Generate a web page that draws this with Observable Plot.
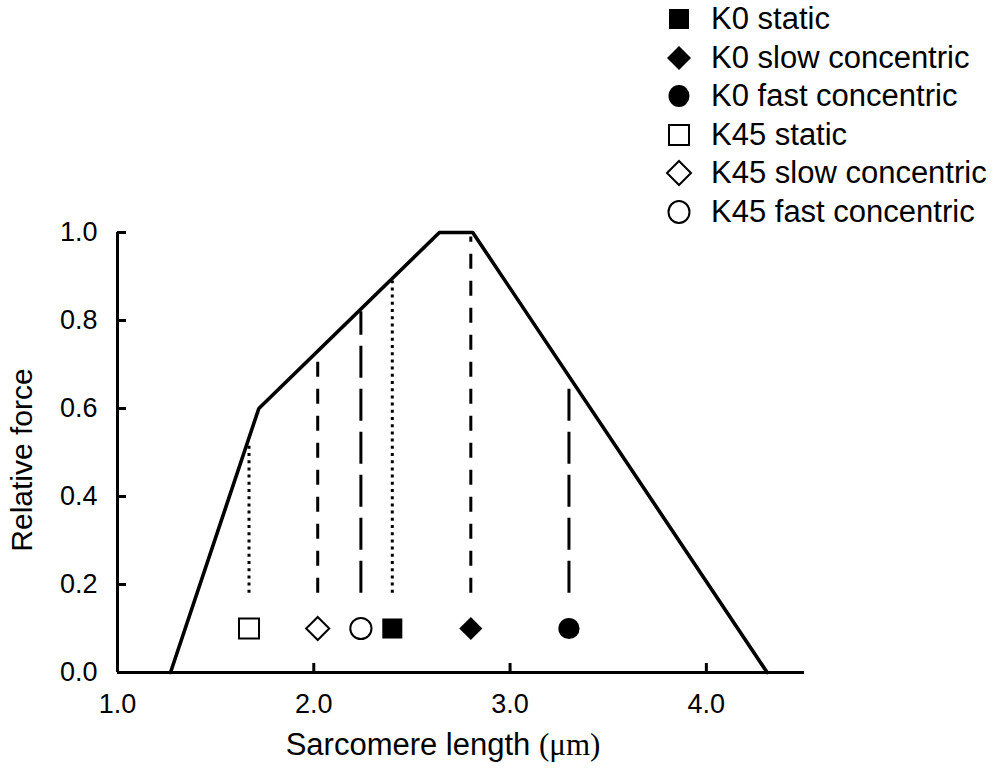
<!DOCTYPE html>
<html>
<head>
<meta charset="utf-8">
<script src="https://cdn.jsdelivr.net/npm/d3@7"></script>
<script src="https://cdn.jsdelivr.net/npm/@observablehq/plot@0.6"></script>
<style>
  html, body { margin: 0; padding: 0; background: #fff; }
  #wrap { position: relative; width: 1004px; height: 779px; font-family: "Liberation Sans", Arial, sans-serif; color: #000; }
  #wrap > svg { position: absolute; left: 0; top: 0; }
  .legend { position: absolute; left: 664px; top: 0px; }
  .legend .row { display: flex; align-items: center; height: 38.5px; font-size: 31px; }
  .legend .row svg { display: block; margin-right: 17px; flex: none; }
  .xtitle { position: absolute; left: 443px; top: 745px; font-size: 31px; transform: translate(-50%, -50%); white-space: nowrap; }
  .ytitle { position: absolute; left: 22px; top: 460px; font-size: 30px; transform: translate(-50%, -50%) rotate(-90deg); white-space: nowrap; }
  .serif { font-family: "Liberation Serif", "Times New Roman", serif; }
</style>
</head>
<body>
<div id="wrap"></div>
<script>
// Force-length relationship (sarcomere length in µm, relative force)
const curveLength = [1.27, 1.72, 2.64, 2.81, 4.31];
const curveForce  = [0.0, 0.6, 1.0, 1.0, 0.0];

// Conditions
const conditions = ["K0 static", "K0 slow concentric", "K0 fast concentric", "K45 static", "K45 slow concentric", "K45 fast concentric"];
const condLength = [2.40, 2.80, 3.30, 1.67, 2.02, 2.24];
const markerForce = [0.1, 0.1, 0.1, 0.1, 0.1, 0.1];
const lineBottom = [0.18, 0.18, 0.18, 0.18, 0.18, 0.18];
const lineTop = [0.89, 0.99, 0.65, 0.52, 0.72, 0.82];
const condSymbol = ["square", "diamond2", "circle", "square", "diamond2", "circle"];
const condFilled = [true, true, true, false, false, false];
const condSpeed = ["static", "slow", "fast", "static", "slow", "fast"];

const xTicks = [1, 2, 3, 4];
const yTicks = [0, 0.2, 0.4, 0.6, 0.8, 1.0];

const curve = curveLength.map((x, i) => ({x, y: curveForce[i]}));
const cond = conditions.map((name, i) => ({
  name, x: condLength[i], y: markerForce[i], y1: lineBottom[i], y2: lineTop[i],
  symbol: condSymbol[i], filled: condFilled[i], speed: condSpeed[i]
}));

const dashFor = {static: "3,4.2", slow: "15,12", fast: "32,11"};
const rFor = {square: 11.3, diamond2: 10.4, circle: 10.6};

const marks = [];
// vertical reference lines
for (const speed of ["static", "slow", "fast"]) {
  marks.push(Plot.ruleX(cond.filter(d => d.speed === speed), {
    x: "x", y1: "y1", y2: "y2", stroke: "#000", strokeWidth: 3, strokeDasharray: dashFor[speed]
  }));
}
// force-length curve
marks.push(Plot.line(curve, {x: "x", y: "y", stroke: "#000", strokeWidth: 3.6, strokeLinejoin: "miter"}));
// axes lines
marks.push(Plot.ruleX([1], {y1: 0, y2: 1, stroke: "#000", strokeWidth: 3}));
marks.push(Plot.ruleY([0], {x1: 1, x2: 4.5, stroke: "#000", strokeWidth: 3}));
// markers
for (const sym of ["square", "diamond2", "circle"]) {
  for (const filled of [true, false]) {
    marks.push(Plot.dot(cond.filter(d => d.symbol === sym && d.filled === filled), {
      x: "x", y: "y", symbol: sym, r: rFor[sym],
      fill: filled ? "#000" : "#fff", stroke: filled ? "none" : "#000", strokeWidth: filled ? 0 : 2
    }));
  }
}
marks.push(Plot.axisX(xTicks, {tickSize: -9, tickPadding: 30, strokeWidth: 3, tickFormat: d3.format(".1f"), fontSize: 27, label: null, fill: "#000"}));
marks.push(Plot.axisY(yTicks, {tickSize: -9, tickPadding: 29, strokeWidth: 3, tickFormat: d3.format(".1f"), fontSize: 27, label: null, fill: "#000"}));

const chart = Plot.plot({
  width: 1004,
  height: 779,
  marginLeft: 117,
  marginRight: 200,
  marginTop: 232,
  marginBottom: 107,
  style: {fontFamily: "Liberation Sans, Arial, sans-serif", color: "#000", background: "#fff"},
  x: {domain: [1, 4.5]},
  y: {domain: [0, 1]},
  marks
});

const wrap = document.getElementById("wrap");
wrap.appendChild(chart);

// legend
const legend = document.createElement("div");
legend.className = "legend";
const symPath = {
  square: "M5,5H25V25H5Z",
  diamond2: "M15,3L27,15L15,27L3,15Z"
};
cond.forEach(d => {
  const row = document.createElement("div");
  row.className = "row";
  const fill = d.filled ? "#000" : "#fff";
  const stroke = d.filled ? "none" : "#000";
  const shape = d.symbol === "circle"
    ? `<ellipse cx="15" cy="15" rx="10.5" ry="11" fill="${fill}" stroke="${stroke}" stroke-width="2"/>`
    : `<path d="${symPath[d.symbol]}" fill="${fill}" stroke="${stroke}" stroke-width="2"/>`;
  row.innerHTML = `<svg width="30" height="30" viewBox="0 0 30 30">${shape}</svg><span>${d.name}</span>`;
  legend.appendChild(row);
});
wrap.appendChild(legend);

const xt = document.createElement("div");
xt.className = "xtitle";
xt.innerHTML = 'Sarcomere length <span class="serif">(μm)</span>';
wrap.appendChild(xt);

const yt = document.createElement("div");
yt.className = "ytitle";
yt.textContent = "Relative force";
wrap.appendChild(yt);
</script>
</body>
</html>
